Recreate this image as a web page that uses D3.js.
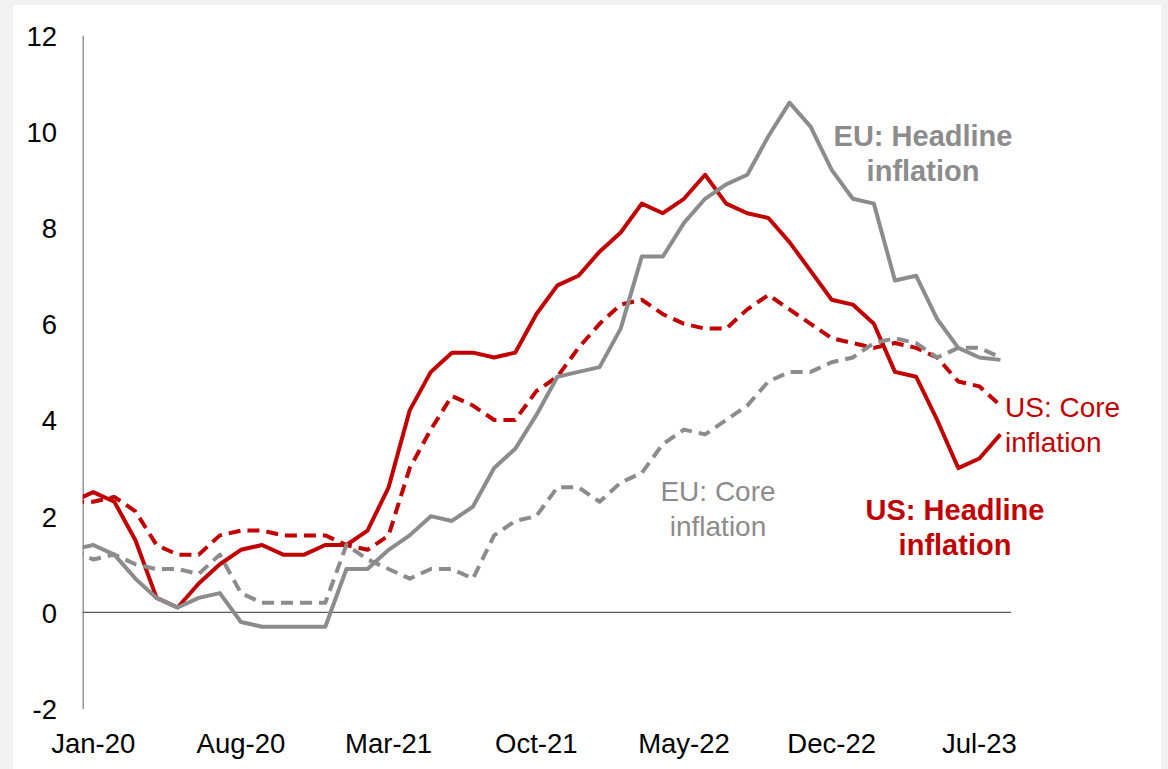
<!DOCTYPE html>
<html>
<head>
<meta charset="utf-8">
<script src="https://cdn.jsdelivr.net/npm/d3@7"></script>
<style>
  html, body { margin: 0; padding: 0; background: #f2f2f2; }
  svg { display: block; }
  text { font-family: "Liberation Sans", Arial, sans-serif; }
</style>
</head>
<body>
<svg id="chart" width="1168" height="769"></svg>
<script>
// Months (Dec-19 is drawn but clipped at the plot's left edge)
const months = ["Dec-19","Jan-20","Feb-20","Mar-20","Apr-20","May-20","Jun-20","Jul-20","Aug-20","Sep-20","Oct-20","Nov-20","Dec-20",
  "Jan-21","Feb-21","Mar-21","Apr-21","May-21","Jun-21","Jul-21","Aug-21","Sep-21","Oct-21","Nov-21","Dec-21",
  "Jan-22","Feb-22","Mar-22","Apr-22","May-22","Jun-22","Jul-22","Aug-22","Sep-22","Oct-22","Nov-22","Dec-22",
  "Jan-23","Feb-23","Mar-23","Apr-23","May-23","Jun-23","Jul-23","Aug-23"];

const usHeadline = [2.3,2.5,2.3,1.5,0.3,0.1,0.6,1.0,1.3,1.4,1.2,1.2,1.4,
  1.4,1.7,2.6,4.2,5.0,5.4,5.4,5.3,5.4,6.2,6.8,7.0,
  7.5,7.9,8.5,8.3,8.6,9.1,8.5,8.3,8.2,7.7,7.1,6.5,
  6.4,6.0,5.0,4.9,4.0,3.0,3.2,3.7];

const usCore = [2.3,2.3,2.4,2.1,1.4,1.2,1.2,1.6,1.7,1.7,1.6,1.6,1.6,
  1.4,1.3,1.6,3.0,3.8,4.5,4.3,4.0,4.0,4.6,4.9,5.5,
  6.0,6.4,6.5,6.2,6.0,5.9,5.9,6.3,6.6,6.3,6.0,5.7,
  5.6,5.5,5.6,5.5,5.3,4.8,4.7,4.3];

const euHeadline = [1.3,1.4,1.2,0.7,0.3,0.1,0.3,0.4,-0.2,-0.3,-0.3,-0.3,-0.3,
  0.9,0.9,1.3,1.6,2.0,1.9,2.2,3.0,3.4,4.1,4.9,5.0,
  5.1,5.9,7.4,7.4,8.1,8.6,8.9,9.1,9.9,10.6,10.1,9.2,
  8.6,8.5,6.9,7.0,6.1,5.5,5.3,5.25];

const euCore = [1.3,1.1,1.2,1.0,0.9,0.9,0.8,1.2,0.4,0.2,0.2,0.2,0.2,
  1.4,1.1,0.9,0.7,0.9,0.9,0.7,1.6,1.9,2.0,2.6,2.6,
  2.3,2.7,2.9,3.5,3.8,3.7,4.0,4.3,4.8,5.0,5.0,5.2,
  5.3,5.6,5.7,5.6,5.3,5.5,5.5,5.3];

const xTickLabels = ["Jan-20","Aug-20","Mar-21","Oct-21","May-22","Dec-22","Jul-23"];
const yTicks = [-2,0,2,4,6,8,10,12];

(function () {
const RED = "#C00000";
const GREY = "#8C8C8C";

const svg = d3.select("#chart");

// white panel
svg.append("rect").attr("x", 13).attr("y", 5).attr("width", 1148).attr("height", 764).attr("fill", "#ffffff");

const pLeft = 82.7, pRight = 1011, pTop = 35.3, pBottom = 708.5;
const firstIdx = months.indexOf("Jan-20");
const nCats = months.length - firstIdx; // Jan-20..Aug-23 = 44

const x = d3.scaleLinear().domain([-0.5, nCats - 0.5]).range([pLeft, pRight]);
const y = d3.scaleLinear().domain([-2, 12]).range([pBottom, pTop]);

svg.append("defs").append("clipPath").attr("id", "plotclip")
  .append("rect").attr("x", pLeft).attr("y", 0).attr("width", pRight - pLeft).attr("height", 769);

// Y axis
const yAxis = d3.axisLeft(y).tickValues(yTicks).tickSize(0).tickPadding(0).tickFormat(d => String(d));
const gy = svg.append("g").attr("transform", `translate(${pLeft},0)`).call(yAxis);
gy.select(".domain").attr("stroke", "#868686").attr("stroke-width", 1.3);
gy.selectAll("text")
  .attr("x", 57 - pLeft).attr("dy", "0.36em")
  .attr("font-size", "27.5px").attr("fill", "#000")
  .attr("font-family", "Liberation Sans, Arial, sans-serif")
  .attr("text-anchor", "end");

// zero line
svg.append("line")
  .attr("x1", pLeft).attr("x2", pRight).attr("y1", y(0)).attr("y2", y(0))
  .attr("stroke", "#595959").attr("stroke-width", 1.3);

// X tick labels
svg.append("g").selectAll("text").data(xTickLabels).join("text")
  .attr("x", d => x(months.indexOf(d) - firstIdx))
  .attr("y", 753)
  .attr("text-anchor", "middle")
  .attr("font-size", "27.5px")
  .attr("fill", "#000")
  .text(d => d);

const line = d3.line()
  .x((d, i) => x(i - firstIdx))
  .y(d => y(d));

const plot = svg.append("g").attr("clip-path", "url(#plotclip)");
const series = [
  { values: usHeadline, color: RED, dash: null },
  { values: usCore, color: RED, dash: "12,7" },
  { values: euHeadline, color: GREY, dash: null },
  { values: euCore, color: GREY, dash: "12,7" }
];
series.forEach(s => {
  plot.append("path")
    .datum(s.values)
    .attr("d", line)
    .attr("fill", "none")
    .attr("stroke", s.color)
    .attr("stroke-width", 4)
    .attr("stroke-linejoin", "round")
    .attr("stroke-dasharray", s.dash);
});

function label(lines, cx, by, anchor, color, bold) {
  const t = svg.append("text")
    .attr("text-anchor", anchor)
    .attr("font-size", bold ? "29px" : "28px")
    .attr("font-weight", bold ? "bold" : "normal")
    .attr("fill", color);
  lines.forEach((l, i) => {
    t.append("tspan").attr("x", cx).attr("y", by + i * 35).text(l);
  });
}
label(["EU: Headline", "inflation"], 923, 146, "middle", GREY, true);
label(["US: Core", "inflation"], 1005, 417, "start", RED, false);
label(["US: Headline", "inflation"], 955, 520, "middle", RED, true);
label(["EU: Core", "inflation"], 718, 501, "middle", GREY, false);
})();
</script>
</body>
</html>
